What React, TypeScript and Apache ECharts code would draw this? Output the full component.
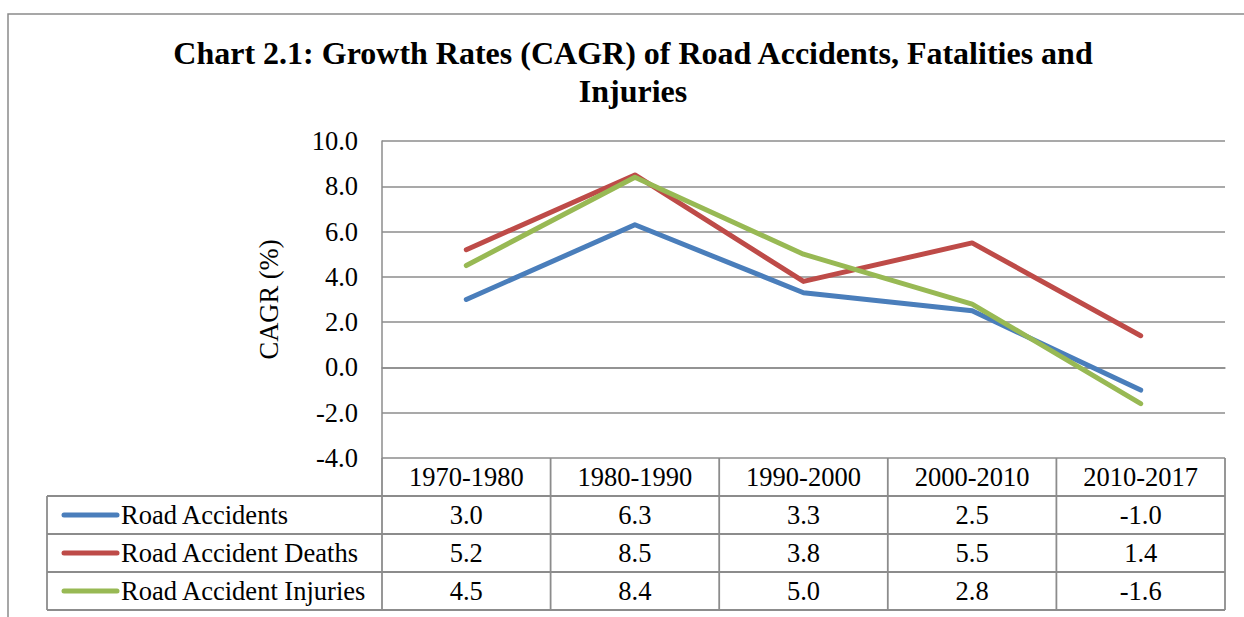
import React, { useEffect, useRef } from "react";
import * as echarts from "echarts";

const categories = ["1970-1980", "1980-1990", "1990-2000", "2000-2010", "2010-2017"];
const roadAccidents = [3.0, 6.3, 3.3, 2.5, -1.0];
const roadAccidentDeaths = [5.2, 8.5, 3.8, 5.5, 1.4];
const roadAccidentInjuries = [4.5, 8.4, 5.0, 2.8, -1.6];
const seriesNames = ["Road Accidents", "Road Accident Deaths", "Road Accident Injuries"];
const seriesColors = ["#4A7EBB", "#BE4B48", "#98B954"];
const yMin = -4;
const yMax = 10;
const yInterval = 2;
const titleText = "Chart 2.1: Growth Rates (CAGR) of Road Accidents, Fatalities and\nInjuries";
const yAxisName = "CAGR (%)";

const FONT = "'Liberation Serif', 'Times New Roman', serif";
const GRID_COLOR = "#8c8c8c";
const FS = 26.5;

export default function App() {
  const ref = useRef<HTMLDivElement>(null);
  useEffect(() => {
    document.body.style.margin = "0";
    const chart = echarts.init(ref.current!, null, { renderer: "svg" });
    const allSeries = [roadAccidents, roadAccidentDeaths, roadAccidentInjuries];
    chart.setOption({
      animation: false,
      backgroundColor: "#ffffff",
      grid: { left: 382, right: 19, top: 141, bottom: 159, containLabel: false },
      xAxis: {
        type: "category",
        data: categories,
        boundaryGap: true,
        axisLine: { show: true, lineStyle: { color: GRID_COLOR, width: 1.5 } },
        axisTick: { show: false },
        axisLabel: {
          margin: 0,
          lineHeight: 38,
          verticalAlign: "top",
          color: "#000",
          fontFamily: FONT,
          fontSize: FS,
          interval: 0,
        },
      },
      yAxis: {
        type: "value",
        min: yMin,
        max: yMax,
        interval: yInterval,
        name: yAxisName,
        nameLocation: "middle",
        nameRotate: 90,
        nameGap: 100,
        nameTextStyle: { color: "#000", fontFamily: FONT, fontSize: FS },
        axisLine: { show: true, lineStyle: { color: GRID_COLOR, width: 1.5 } },
        axisTick: { show: false },
        splitLine: { show: true, lineStyle: { color: GRID_COLOR, width: 1.5 } },
        axisLabel: {
          margin: 24,
          color: "#000",
          fontFamily: FONT,
          fontSize: FS,
          formatter: (v: number) => v.toFixed(1),
        },
      },
      series: allSeries.map((d, i) => ({
        name: seriesNames[i],
        type: "line",
        data: d,
        symbol: "none",
        lineStyle: { color: seriesColors[i], width: 5, cap: "round", join: "round" },
        itemStyle: { color: seriesColors[i] },
        z: 3 + i,
      })),
    });

    const centers = categories.map((c) => chart.convertToPixel({ xAxisIndex: 0 }, c) as number);
    const bw = centers[1] - centers[0];
    const colLeft = centers[0] - bw / 2;
    const colRight = centers[centers.length - 1] + bw / 2;
    const y0 = chart.convertToPixel({ yAxisIndex: 0 }, yMin) as number;
    const rh = 38;
    const legendLeft = 47;
    const lineStyle = { stroke: GRID_COLOR, lineWidth: 1.8 };
    const g: any[] = [];
    g.push({
      type: "rect",
      shape: { x: 8, y: 14, width: 1400, height: 800 },
      style: { fill: "none", stroke: "#8a8a8a", lineWidth: 1.5 },
      silent: true,
    });
    g.push({
      type: "text",
      x: 633,
      y: 34,
      style: {
        text: titleText,
        align: "center",
        verticalAlign: "top",
        font: `bold 32px ${FONT}`,
        lineHeight: 38,
        fill: "#000",
      },
    });
    for (let r = 1; r <= 4; r++) {
      g.push({
        type: "line",
        shape: { x1: legendLeft, y1: y0 + rh * r, x2: colRight, y2: y0 + rh * r },
        style: lineStyle,
      });
    }
    g.push({
      type: "line",
      shape: { x1: legendLeft, y1: y0 + rh, x2: legendLeft, y2: y0 + rh * 4 },
      style: lineStyle,
    });
    for (let c = 0; c <= categories.length; c++) {
      const x = colLeft + bw * c;
      g.push({
        type: "line",
        shape: { x1: x, y1: y0, x2: x, y2: y0 + rh * 4 },
        style: lineStyle,
      });
    }
    allSeries.forEach((d, i) => {
      const yMid = y0 + rh * (i + 1) + rh / 2;
      g.push({
        type: "line",
        shape: { x1: 64, y1: yMid, x2: 117, y2: yMid },
        style: { stroke: seriesColors[i], lineWidth: 5, lineCap: "round" },
      });
      g.push({
        type: "text",
        x: 121,
        y: yMid,
        style: {
          text: seriesNames[i],
          align: "left",
          verticalAlign: "middle",
          font: `${FS}px ${FONT}`,
          fill: "#000",
        },
      });
      d.forEach((v, j) => {
        g.push({
          type: "text",
          x: centers[j],
          y: yMid,
          style: {
            text: v.toFixed(1),
            align: "center",
            verticalAlign: "middle",
            font: `${FS}px ${FONT}`,
            fill: "#000",
          },
        });
      });
    });
    chart.setOption({ graphic: g });
    return () => chart.dispose();
  }, []);
  return <div ref={ref} style={{ width: 1244, height: 617 }} />;
}
